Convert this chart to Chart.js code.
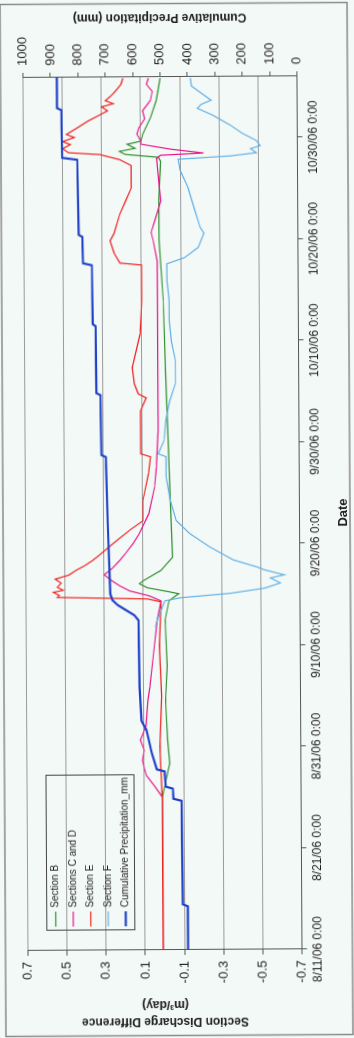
<!DOCTYPE html>
<html>
<head>
<meta charset="utf-8">
<script src="https://cdn.jsdelivr.net/npm/chart.js@4.4.1/dist/chart.umd.min.js"></script>
<style>
  html, body { margin: 0; padding: 0; background: #f3f9f6; overflow: hidden; }
  /* the chart is drawn upright, then turned a quarter turn like the scanned page */
  #wrap {
    position: absolute; left: -342px; top: 342px;
    width: 1038px; height: 354px;
    transform: rotate(-90.33deg);
  }
  canvas { display: block; }
</style>
</head>
<body>
<div id="wrap"><canvas id="myChartDischarge" width="1038" height="354"></canvas></div>
<script>
//? Data (days after 8/11/06 0:00).

const dateTickDays = [0, 10, 20, 30, 40, 50, 60, 70, 80];
const dateLabels = [
  "8/11/06 0:00", "8/21/06 0:00", "8/31/06 0:00", "9/10/06 0:00", "9/20/06 0:00",
  "9/30/06 0:00", "10/10/06 0:00", "10/20/06 0:00", "10/30/06 0:00",
];
const dischargeTicks = [-0.7, -0.5, -0.3, -0.1, 0.1, 0.3, 0.5, 0.7];
const precipTicks = [0, 100, 200, 300, 400, 500, 600, 700, 800, 900, 1000];

const sectionBDays = [0, 15, 16.7, 18.4, 20.7, 24.6, 28, 32.5, 34.4, 35.1, 35.3, 35.7, 36.1, 36.4, 37.4, 38.7, 44.3, 50.9, 57, 64, 70, 73.8, 77.7, 78.1, 78.4, 78.7, 79.0, 79.4, 79.7, 80.4, 82, 83.7, 85.9];
const sectionB = [0.01, 0.01, -0.01, -0.03, -0.02, -0.01, -0.02, -0.01, -0.03, -0.08, -0.03, 0.08, 0.12, 0.10, 0.01, -0.05, -0.04, -0.03, -0.02, -0.01, 0.01, 0.01, 0.0, 0.01, 0.18, 0.21, 0.13, 0.17, 0.10, 0.09, 0.05, 0.02, 0.0];

const sectionCDDays = [0, 15.1, 16.2, 17.2, 17.9, 18.7, 19.7, 20.7, 22.1, 24.6, 25.9, 29.2, 32.5, 34.4, 34.9, 35.4, 35.9, 36.4, 37.0, 37.6, 38.4, 39.1, 40.1, 41.0, 43.0, 45.6, 47.5, 51.2, 54.1, 64, 67.9, 69.9, 70.7, 71.9, 73.8, 75.8, 78.0, 78.3, 78.5, 78.9, 79.4, 79.7, 80.4, 81.0, 81.9, 82.7, 83.7, 84.6, 85.3, 85.9];
const sectionCD = [0.01, 0.01, 0.05, 0.09, 0.10, 0.11, 0.10, 0.12, 0.09, 0.08, 0.07, 0.05, 0.03, 0.01, 0.07, 0.17, 0.22, 0.26, 0.30, 0.26, 0.22, 0.19, 0.15, 0.12, 0.07, 0.04, 0.03, 0.02, 0.02, 0.02, 0.02, 0.04, 0.05, 0.03, 0.0, 0.01, 0.02, 0.0, -0.22, -0.05, 0.10, 0.10, 0.12, 0.11, 0.08, 0.09, 0.05, 0.04, 0.07, 0.06];

const sectionEDays = [0, 15, 20, 25, 30, 34.3, 34.6, 34.8, 35.0, 35.3, 35.5, 35.8, 36.2, 36.6, 37.0, 37.5, 37.9, 38.4, 39.0, 39.8, 40.6, 41.5, 42.3, 44.3, 47.0, 48.6, 48.9, 50.2, 53.1, 54.4, 54.8, 55.8, 57.4, 60.7, 64, 67.5, 67.7, 68.7, 69.9, 70.6, 72.5, 73.8, 75.1, 77.3, 77.9, 78.4, 78.6, 79.0, 79.4, 79.7, 80.1, 80.4, 81.1, 81.7, 82.2, 82.7, 83.1, 83.4, 83.7, 84.2, 84.6, 85.3, 85.9];
const sectionE = [0.01, 0.01, 0.02, 0.01, 0.02, 0.01, 0.08, 0.54, 0.53, 0.56, 0.51, 0.54, 0.52, 0.55, 0.48, 0.44, 0.40, 0.36, 0.32, 0.27, 0.22, 0.16, 0.10, 0.10, 0.07, 0.06, 0.11, 0.11, 0.11, 0.08, 0.12, 0.14, 0.15, 0.11, 0.10, 0.10, 0.21, 0.24, 0.26, 0.24, 0.21, 0.18, 0.15, 0.15, 0.21, 0.31, 0.47, 0.50, 0.46, 0.50, 0.44, 0.48, 0.42, 0.37, 0.32, 0.27, 0.30, 0.24, 0.28, 0.25, 0.23, 0.20, 0.19];

const sectionFDays = [31.8, 32.5, 34.4, 34.7, 35.1, 35.6, 36.1, 36.6, 36.9, 37.4, 37.7, 38.4, 39.7, 41.0, 42.3, 44.3, 46.6, 48.6, 48.9, 50.2, 52.2, 54.1, 55.8, 58.1, 60.0, 62.0, 64.0, 65.9, 67.6, 68.2, 69.2, 70.6, 71.2, 73.1, 75.1, 76.8, 77.9, 78.2, 78.5, 78.9, 79.2, 79.7, 80.4, 81.2, 82.2, 82.9, 83.3, 83.7, 84.4, 85.1, 85.9];
const sectionF = [0.04, 0.03, -0.01, -0.09, -0.34, -0.52, -0.60, -0.55, -0.62, -0.52, -0.48, -0.36, -0.24, -0.14, -0.07, -0.04, -0.02, -0.02, 0.02, -0.01, -0.02, -0.04, -0.07, -0.07, -0.05, -0.04, -0.04, -0.03, -0.03, -0.12, -0.19, -0.22, -0.20, -0.17, -0.14, -0.10, -0.09, -0.36, -0.49, -0.46, -0.51, -0.49, -0.42, -0.36, -0.27, -0.19, -0.21, -0.26, -0.21, -0.16, -0.155];

const precipDays = [0, 4.3, 4.5, 14.7, 14.9, 15.9, 16.1, 17.6, 17.8, 19.4, 21.7, 22.6, 25.9, 32.5, 33.0, 33.5, 34.0, 34.5, 35.1, 42, 48.6, 48.8, 54.7, 54.9, 61.5, 61.7, 67.5, 67.7, 70.3, 70.5, 77.9, 78.1, 82.8, 83.0, 86];
const precipMm = [416, 416, 434, 437, 466, 468, 494, 498, 526, 544, 563, 581, 587, 590, 605, 635, 665, 685, 692, 700, 706, 722, 724, 739, 741, 751, 753, 785, 787, 800, 804, 859, 861, 877, 877];

//? -------------------------------------------------

const toPoints = (days, values) => days.map((d, i) => ({ x: d, y: values[i] }));

const fontFamily = "'Liberation Sans', Arial, sans-serif";
const textColor = "#1e1e1e";
const axisColor = "#555555";

//? Legend drawn inside the plot, upper left corner like Excel.

const legendInPlot = {
  id: "legendInPlot",
  afterDraw(chart) {
    const ctx = chart.ctx;
    const box = { x: 108, y: 44, w: 155, h: 88 };
    ctx.save();
    ctx.strokeStyle = "#444";
    ctx.lineWidth = 1;
    ctx.strokeRect(box.x + 0.5, box.y + 0.5, box.w, box.h);
    ctx.font = `10px ${fontFamily}`;
    ctx.textBaseline = "middle";
    ctx.fillStyle = textColor;
    chart.data.datasets.forEach((ds, i) => {
      const y = box.y + 9.5 + i * 17.5;
      ctx.strokeStyle = ds.borderColor;
      ctx.lineWidth = ds.borderWidth;
      ctx.beginPath();
      ctx.moveTo(box.x + 4, y);
      ctx.lineTo(box.x + 19, y);
      ctx.stroke();
      ctx.fillText(ds.label, box.x + 23, y);
    });
    ctx.restore();
  },
};

//? Right axis title reads bottom to top, frame around the chart.

const extrasPlugin = {
  id: "extras",
  beforeDraw(chart) {
    const ctx = chart.ctx;
    ctx.save();
    ctx.strokeStyle = "#8a8a8a";
    ctx.lineWidth = 1.5;
    ctx.strokeRect(2.5, 3, 1032, 347);
    ctx.restore();
  },
  afterDraw(chart) {
    const ctx = chart.ctx;
    const { top, bottom } = chart.chartArea;
    ctx.save();
    ctx.translate(1021, (top + bottom) / 2);
    ctx.rotate(-Math.PI / 2);
    ctx.font = `bold 12px ${fontFamily}`;
    ctx.fillStyle = textColor;
    ctx.textAlign = "center";
    ctx.textBaseline = "middle";
    ctx.fillText("Cumulative Precipitation (mm)", 0, 0);
    ctx.restore();
  },
};

//? -------------------------------------------------

const lineStyle = (label, color, width, order, axis) => ({
  label,
  borderColor: color,
  backgroundColor: color,
  borderWidth: width,
  pointRadius: 0,
  tension: 0,
  fill: false,
  order,
  yAxisID: axis,
});

const data = {
  datasets: [
    { ...lineStyle("Section B", "#2f8f2f", 1.2, 5, "y"), data: toPoints(sectionBDays, sectionB) },
    { ...lineStyle("Sections C and D", "#e8178a", 1.2, 4, "y"), data: toPoints(sectionCDDays, sectionCD) },
    { ...lineStyle("Section E", "#ee2020", 1.2, 3, "y"), data: toPoints(sectionEDays, sectionE) },
    { ...lineStyle("Section F", "#62b0e6", 1.2, 2, "y"), data: toPoints(sectionFDays, sectionF) },
    { ...lineStyle("Cumulative Precipitation_mm", "#1f40c8", 2.2, 1, "y2"), data: toPoints(precipDays, precipMm) },
  ],
};

const options = {
  responsive: false,
  devicePixelRatio: 1,
  animation: false,
  layout: { padding: { top: 25.6, left: 0, right: 0, bottom: 0 } },
  plugins: { legend: { display: false }, tooltip: { enabled: false } },
  scales: {
    x: {
      type: "linear",
      position: "bottom",
      min: 0,
      max: 86,
      afterBuildTicks: (s) => { s.ticks = dateTickDays.map((v) => ({ value: v })); },
      afterFit: (s) => { s.height = 54.5; },
      ticks: {
        autoSkip: false, maxRotation: 0, minRotation: 0, padding: 4,
        color: textColor, font: { size: 12 },
        callback: (v) => dateLabels[dateTickDays.indexOf(v)],
      },
      grid: { drawOnChartArea: false, tickLength: 5, tickColor: axisColor },
      border: { color: axisColor, width: 1 },
      title: {
        display: true, text: "Date", color: textColor,
        font: { size: 13, weight: "bold" }, padding: { top: 0, bottom: 3 },
      },
    },
    y: {
      position: "left",
      min: -0.7,
      max: 0.7,
      afterBuildTicks: (s) => { s.ticks = dischargeTicks.map((v) => ({ value: v })); },
      afterFit: (s) => { s.width = 88; },
      ticks: { padding: 6, color: textColor, font: { size: 13 }, callback: (v) => v.toFixed(1) },
      grid: { color: "#9a9a9a", lineWidth: 1, tickLength: 5, tickColor: axisColor },
      border: { color: axisColor, width: 1 },
      title: {
        display: true, text: ["Section Discharge Difference", "(m³/day)"], color: textColor,
        font: { size: 12, weight: "bold", lineHeight: 1.45 }, padding: { top: 8, bottom: 0 },
      },
    },
    y2: {
      position: "right",
      min: 0,
      max: 1000,
      afterBuildTicks: (s) => { s.ticks = precipTicks.map((v) => ({ value: v })); },
      afterFit: (s) => { s.width = 77; },
      ticks: { padding: 7, color: textColor, font: { size: 13 }, callback: (v) => String(v) },
      grid: { drawOnChartArea: false, tickLength: 5, tickColor: axisColor },
      border: { color: axisColor, width: 1 },
    },
  },
};

Chart.defaults.font.family = fontFamily;

try {
  const ctx = document.getElementById("myChartDischarge").getContext("2d");
  new Chart(ctx, { type: "line", data, options, plugins: [extrasPlugin, legendInPlot] });
} catch (error) {
  console.log("🔴 ERREUR | Construction graphique :", error);
}
</script>
</body>
</html>
